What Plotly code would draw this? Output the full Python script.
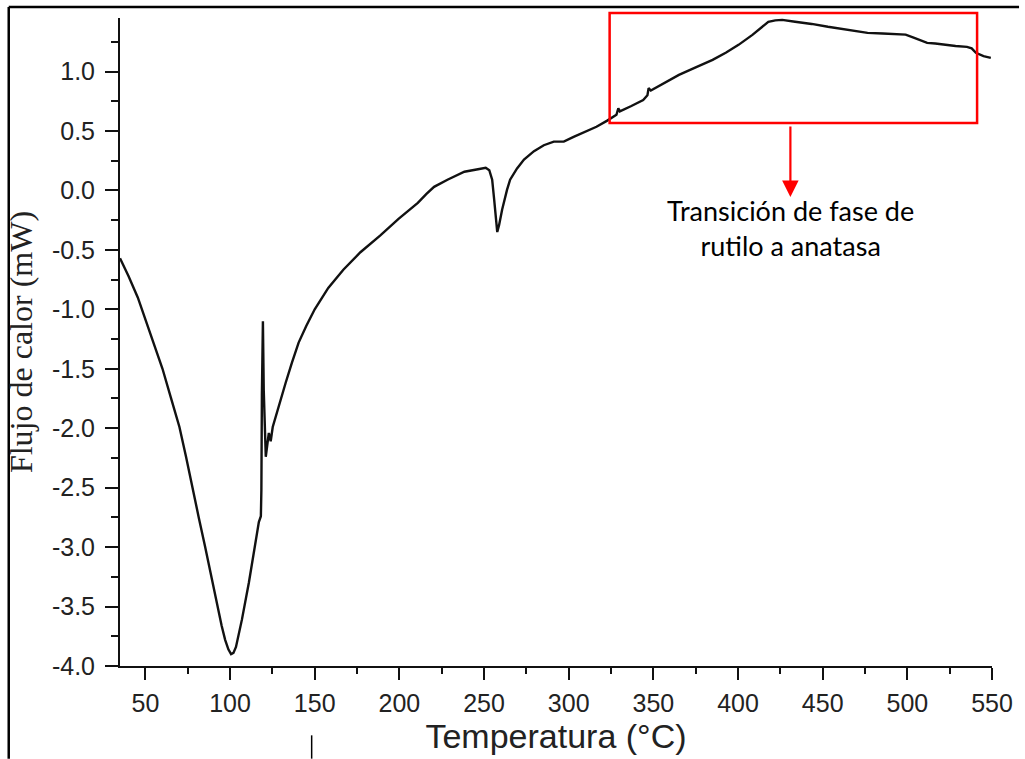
import plotly.graph_objects as go

# Temperature (°C) and heat flow (mW)
temperature = [35, 40, 45.5, 47.8, 53.5, 60.1, 65.0, 70.1, 74.0, 77.7, 81.5, 85.3,
               89.0, 92.4, 95.0, 97.1, 99.0, 100.6, 102.0, 103.5, 107.0, 111.1,
               115.2, 117.0, 118.2, 118.5, 118.8, 119.4, 119.9, 120.5, 121.1,
               122.9, 124.0, 125.2, 129.0, 132.8, 136.5, 140.5, 145.0, 150, 158.0,
               166.9, 177.0, 188.6, 199.5, 210.9, 216.0, 220.5, 228.4, 238.4, 247.2,
               251, 253.1, 254.8, 256, 257.2, 257.8, 258.9, 260.7, 263.6, 265.4,
               269.5, 273.6, 279.5, 285.3, 291.2, 297.1, 302.9, 309.5, 316.4, 322.5,
               328.2, 329.3, 330.2, 337.0, 344, 346.5, 347.2, 348.5, 356.5, 365.1,
               375.0, 385, 393.0, 400.3, 408.5, 413.5, 417.9, 422.0, 426.1, 433.7,
               443.5, 453.1, 465.0, 476.5, 485.5, 494.1, 499.0, 504.1, 511.7, 516.5,
               521.7, 528.5, 535.2, 538.0, 540.5, 545.0, 549.3]
heat_flow = [-0.57, -0.72, -0.90, -0.995, -1.24, -1.50, -1.74, -1.99, -2.24, -2.50,
             -2.75, -3.00, -3.26, -3.50, -3.66, -3.78, -3.86, -3.90, -3.89, -3.84,
             -3.61, -3.30, -2.96, -2.79, -2.74, -2.52, -1.72, -1.10, -1.68, -2.10,
             -2.24, -2.04, -2.11, -1.99, -1.80, -1.62, -1.45, -1.28, -1.14, -1.00,
             -0.82, -0.667, -0.52, -0.38, -0.24, -0.105, -0.03, 0.03, 0.09, 0.157,
             0.18, 0.19, 0.17, 0.09, -0.08, -0.29, -0.35, -0.29, -0.16, 0.006,
             0.09, 0.185, 0.26, 0.33, 0.38, 0.41, 0.41, 0.45, 0.49, 0.535,
             0.585, 0.636, 0.69, 0.665, 0.71, 0.76, 0.80, 0.86, 0.84, 0.905,
             0.972, 1.035, 1.098, 1.16, 1.224, 1.308, 1.37, 1.418, 1.43, 1.434,
             1.418, 1.40, 1.376, 1.35, 1.325, 1.32, 1.317, 1.31, 1.283, 1.241,
             1.235, 1.224, 1.215, 1.207, 1.195, 1.157, 1.13, 1.115]

x_ticks = [50, 100, 150, 200, 250, 300, 350, 400, 450, 500, 550]
x_tick_labels = ["50", "100", "150", "200", "250", "300", "350", "400", "450", "500", "550"]
y_ticks = [-4.0, -3.5, -3.0, -2.5, -2.0, -1.5, -1.0, -0.5, 0.0, 0.5, 1.0]
y_tick_labels = ["-4.0", "-3.5", "-3.0", "-2.5", "-2.0", "-1.5", "-1.0", "-0.5", "0.0", "0.5", "1.0"]

x_title = "Temperatura (°C)"
y_title = "Flujo de calor (mW)"
note_text = "Transición de fase de<br>rutilo a anatasa"

fig = go.Figure()
fig.add_trace(go.Scatter(x=temperature, y=heat_flow, mode="lines",
                         line=dict(color="#111111", width=2.4), showlegend=False,
                         hoverinfo="x+y"))

tick_font = dict(family="Liberation Sans, Arial", size=25, color="#222222")

fig.update_layout(
    width=1025, height=759,
    margin=dict(l=120, r=27, t=18, b=93),
    paper_bgcolor="white", plot_bgcolor="white",
    xaxis=dict(range=[35, 550], tickvals=x_ticks, ticktext=x_tick_labels,
               showgrid=False, zeroline=False, showline=True, linecolor="#111111",
               linewidth=2, ticks="outside", ticklen=12, tickwidth=2, tickcolor="#111111",
               minor=dict(dtick=25, tick0=0, ticks="outside", ticklen=6, tickwidth=2,
                          tickcolor="#111111", showgrid=False),
               tickfont=tick_font, ticklabelstandoff=2,
               title=dict(text=x_title, standoff=0,
                          font=dict(family="Liberation Sans, Arial", size=34, color="#222222"))),
    yaxis=dict(range=[-4.0, 1.45], tickvals=y_ticks, ticktext=y_tick_labels,
               showgrid=False, zeroline=False, showline=True, linecolor="#111111",
               linewidth=2, ticks="outside", ticklen=13, tickwidth=2, tickcolor="#111111",
               minor=dict(dtick=0.25, tick0=0, ticks="outside", ticklen=7, tickwidth=2,
                          tickcolor="#111111", showgrid=False),
               tickfont=tick_font, ticklabelstandoff=5,
               title=dict(text=y_title, standoff=10,
                          font=dict(family="Liberation Serif, Times New Roman", size=32,
                                    color="#222222"))),
)

# highlight box and arrow
fig.add_shape(type="rect", xref="paper", yref="paper", x0=0.5615, x1=0.9829,
              y0=0.838, y1=1.0077, line=dict(color="#ff0000", width=2.5))
fig.add_annotation(xref="paper", yref="paper", x=0.7688, y=0.7238, ax=0, ay=-72,
                   text="", showarrow=True, arrowhead=2, arrowsize=1.5, arrowwidth=2.2,
                   arrowcolor="#ff0000")
fig.add_annotation(xref="paper", yref="paper", x=0.7688, y=0.731, xanchor="center",
                   yanchor="top", text=note_text, showarrow=False, align="center",
                   font=dict(family="Lato, Open Sans", size=27, color="#000000"))

# outer frame lines of the figure image
fig.add_shape(type="line", xref="paper", yref="paper", x0=-0.1276, x1=-0.1276,
              y0=-0.143, y1=1.017, line=dict(color="#000000", width=2.5))
fig.add_shape(type="line", xref="paper", yref="paper", x0=-0.1276, x1=1.031,
              y0=1.017, y1=1.017, line=dict(color="#000000", width=2.5))
fig.add_shape(type="line", xref="paper", yref="paper", x0=0.2198, x1=0.2198,
              y0=-0.143, y1=-0.107, line=dict(color="#000000", width=1.5))

fig.write_html("out.html")
